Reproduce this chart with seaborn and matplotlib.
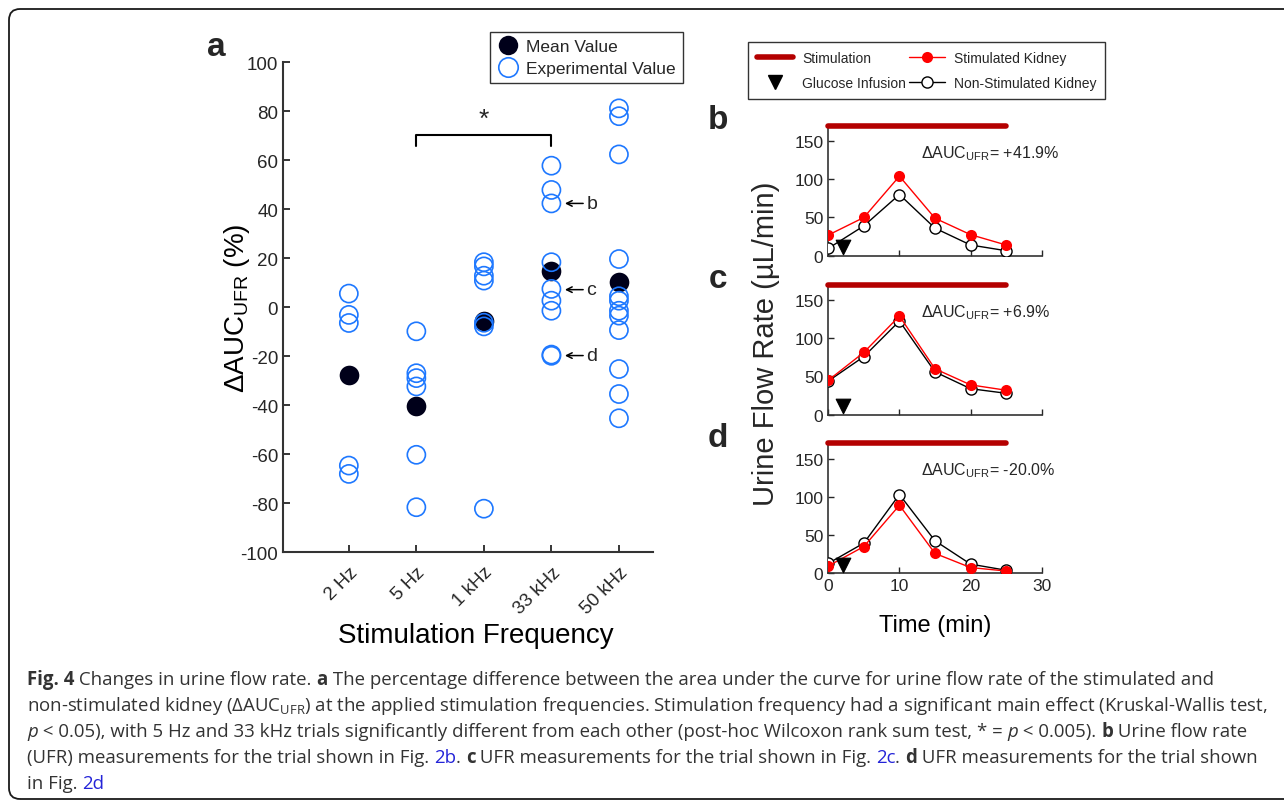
import numpy as np
import pandas as pd
import matplotlib
matplotlib.use("Agg")
import matplotlib.pyplot as plt
import seaborn as sns
from matplotlib.lines import Line2D
from matplotlib.patches import FancyBboxPatch
from matplotlib.transforms import IdentityTransform

# panel a data
freq_labels = ["2 Hz", "5 Hz", "1 kHz", "33 kHz", "50 kHz"]
exp_2hz = [5.6, -3.1, -6.4, -64.6, -68.0]
exp_5hz = [-9.8, -26.9, -28.9, -32.3, -60.2, -81.6]
exp_1khz = [18.4, 16.7, 12.9, 10.9, -6.3, -7.8, -82.2]
exp_33khz = [57.8, 47.9, 42.4, 18.4, 7.5, 2.7, -1.4, -19.3, -19.8]
exp_50khz = [81.2, 78.0, 62.4, 19.7, 4.5, 2.7, -1.4, -3.4, -9.3, -25.2, -35.4, -45.3]
mean_values = [-27.6, -40.3, -5.5, 15.0, 10.3]
trial_marks = {"b": 42.4, "c": 7.2, "d": -19.7}

# panels b-d data
time_min = [0, 5, 10, 15, 20, 25]
stim_b = [27, 50, 104, 49, 27.5, 14]
nonstim_b = [9.6, 39, 80, 36, 14, 6.5]
stim_c = [45, 81.5, 129, 60, 39, 32]
nonstim_c = [44, 76, 122.5, 56, 34, 28]
stim_d = [9.6, 35, 89, 26, 7.5, 3]
nonstim_d = [13, 39.5, 103, 42.5, 12, 4]
auc_text = ["+41.9%", "+6.9%", "-20.0%"]
stim_window = [0, 25]
stim_level = 170
glucose_time = [2]
glucose_level = [11]

sns.set_style("ticks")
plt.rcParams["font.family"] = ["Liberation Sans", "DejaVu Sans"]
plt.rcParams["mathtext.default"] = "regular"
plt.rcParams["axes.unicode_minus"] = False
plt.rcParams["xtick.direction"] = "in"
plt.rcParams["ytick.direction"] = "in"

W, H = 1284, 803
fig = plt.figure(figsize=(W / 100, H / 100), dpi=100)

def px(x0, y0, x1, y1):
    # pixel box (top-left origin) -> figure fraction rect
    return [x0 / W, 1 - y1 / H, (x1 - x0) / W, (y1 - y0) / H]

blue = "#1e78ff"
navy = "#00001a"
dark = "#262626"

# ---------- panel a ----------
ax = fig.add_axes(px(283, 63.3, 652.7, 553.3))
exp_df = pd.concat([
    pd.DataFrame({"freq": lab, "val": vals})
    for lab, vals in zip(freq_labels, [exp_2hz, exp_5hz, exp_1khz, exp_33khz, exp_50khz])
])
mean_df = pd.DataFrame({"freq": freq_labels, "val": mean_values})
sns.scatterplot(data=mean_df, x="freq", y="val", ax=ax, s=200, color=navy,
                edgecolor=navy, linewidth=0, legend=False, zorder=3)
sns.scatterplot(data=exp_df, x="freq", y="val", ax=ax, s=170, fc="none",
                edgecolor=blue, linewidth=1.2, legend=False, zorder=4)
ax.set_xlim(-0.975, 4.5)
ax.set_ylim(-100, 100)
ax.set_yticks(np.arange(-100, 101, 20))
ax.tick_params(labelsize=13.5, colors=dark, length=5, width=1.3)
ax.tick_params(axis="x", pad=8)
ax.set_xticks(range(len(freq_labels)))
ax.set_xticklabels(freq_labels, rotation=45, ha="right", rotation_mode="anchor")
for s in ["top", "right"]:
    ax.spines[s].set_visible(False)
for s in ["left", "bottom"]:
    ax.spines[s].set_linewidth(1.5)
    ax.spines[s].set_color("#333333")
ax.set_xlabel("Stimulation Frequency", fontsize=20, color="black", va="center")
ax.xaxis.set_label_coords(0.522, -0.169)
ax.set_ylabel("ΔAUC$_{UFR}$ (%)", fontsize=20, color="black", va="center")
ax.yaxis.set_label_coords(-0.124, 0.5)

# significance bracket 5 Hz vs 33 kHz
ax.plot([1, 1, 3, 3], [66, 70.5, 70.5, 66], color="black", lw=1.5)
ax.text(2, 72, "*", ha="center", va="bottom", fontsize=19)
for lab, yv in trial_marks.items():
    ax.annotate("", xy=(3.2, yv), xytext=(3.47, yv),
                arrowprops=dict(arrowstyle="->", color="black", lw=1.1,
                                shrinkA=0, shrinkB=0, mutation_scale=10))
    ax.text(3.52, yv, lab, ha="left", va="center", fontsize=14)

ax.legend(handles=[
    Line2D([], [], marker="o", ls="none", markersize=14, color=navy, markeredgewidth=0),
    Line2D([], [], marker="o", ls="none", markersize=14, markerfacecolor="none",
           markeredgecolor=blue, markeredgewidth=1.2)],
    labels=["Mean Value", "Experimental Value"], loc="upper left",
    bbox_to_anchor=(490 / W, 1 - 33 / H), bbox_transform=fig.transFigure,
    fontsize=12.5, frameon=True, fancybox=False, edgecolor="black",
    handletextpad=0.4, borderpad=0.4, labelspacing=0.4, handlelength=1.3,
    borderaxespad=0)

fig.text(207 / W, 1 - 48 / H, "a", fontsize=24, fontweight="bold", ha="left", va="center")

# ---------- panels b-d ----------
tops = [126.7, 285.7, 444.3]
stims = [stim_b, stim_c, stim_d]
nonstims = [nonstim_b, nonstim_c, nonstim_d]
for i, lab in enumerate(["b", "c", "d"]):
    top = tops[i]
    bx = fig.add_axes(px(828.3, top, 1041.7, top + 130))
    sns.lineplot(x=stim_window, y=[stim_level, stim_level], ax=bx, color="#b40000",
                 lw=4, clip_on=False, zorder=5)
    sns.lineplot(x=time_min, y=nonstims[i], ax=bx, color="black", lw=1,
                 marker="o", markersize=8, markerfacecolor="white",
                 markeredgecolor="black", markeredgewidth=1, zorder=3)
    sns.lineplot(x=time_min, y=stims[i], ax=bx, color="red", lw=1,
                 marker="o", markersize=8, markerfacecolor="red",
                 markeredgecolor="red", markeredgewidth=0, zorder=4)
    sns.scatterplot(x=glucose_time, y=glucose_level, ax=bx, marker="v", s=110,
                    color="black", edgecolor="black", legend=False, zorder=6)
    bx.set_xlim(0, 30)
    bx.set_ylim(0, 170)
    bx.set_yticks([0, 50, 100, 150])
    bx.set_xticks([0, 10, 20, 30])
    bx.tick_params(labelsize=12.5, colors=dark, length=4, width=1)
    if lab != "d":
        bx.set_xticklabels([])
    for s in ["top", "right"]:
        bx.spines[s].set_visible(False)
    for s in ["left", "bottom"]:
        bx.spines[s].set_color("#333333")
        bx.spines[s].set_linewidth(1.2)
    bx.text(13, 135, "ΔAUC$_{UFR}$= " + auc_text[i], fontsize=11.5, ha="left", va="center")
    fig.text(718 / W, 1 - (top - 6) / H, lab, fontsize=24, fontweight="bold",
             ha="center", va="center")
    if lab == "d":
        bx.set_xlabel("Time (min)", fontsize=17, color="black", va="center")
        bx.xaxis.set_label_coords(0.5, -0.40)

fig.text(766 / W, 1 - 344 / H, "Urine Flow Rate (µL/min)", fontsize=21,
         rotation=90, ha="center", va="center")

fig.legend(handles=[
    Line2D([], [], color="#b40000", lw=4),
    Line2D([], [], marker="v", ls="none", color="black", markersize=10),
    Line2D([], [], color="red", lw=1, marker="o", markersize=8, markeredgewidth=0),
    Line2D([], [], color="black", lw=1, marker="o", markersize=8,
           markerfacecolor="white", markeredgecolor="black")],
    labels=["Stimulation", "Glucose Infusion", "Stimulated Kidney", "Non-Stimulated Kidney"],
    ncol=2, loc="upper left", bbox_to_anchor=(748 / W, 1 - 43 / H),
    fontsize=10, frameon=True, fancybox=False, edgecolor="black",
    handlelength=2.6, columnspacing=0.2, handletextpad=0.65, borderpad=0.65,
    labelspacing=0.8, borderaxespad=0)

# ---------- caption ----------
renderer = fig.canvas.get_renderer()
cap_base = dict(fontsize=13.4, color="#333333", family=["Open Sans", "DejaVu Sans"])
link = "#2424d8"

def run_width(txt, kw):
    a = fig.text(0, 0, "x" + txt + "x", **{**cap_base, **kw})
    b = fig.text(0, 0, "xx", **{**cap_base, **kw})
    w = a.get_window_extent(renderer).width - b.get_window_extent(renderer).width
    a.remove()
    b.remove()
    return w

def draw_runs(x, y, runs):
    for txt, kw in runs:
        fig.text(x / W, 1 - y / H, txt, va="baseline", ha="left", **{**cap_base, **kw})
        x += run_width(txt, kw)

B = {"fontweight": "bold"}
I = {"style": "italic"}
L = {"color": link}
N = {}
caption = [
    [("Fig. 4", B), (" Changes in urine flow rate. ", N), ("a", B),
     (" The percentage difference between the area under the curve for urine flow rate of the stimulated and", N)],
    [("non-stimulated kidney (ΔAUC$_{UFR}$) at the applied stimulation frequencies. Stimulation frequency had a significant main effect (Kruskal-Wallis test,", N)],
    [("p", I), (" < 0.05), with 5 Hz and 33 kHz trials significantly different from each other (post-hoc Wilcoxon rank sum test, * = ", N),
     ("p", I), (" < 0.005). ", N), ("b", B), (" Urine flow rate", N)],
    [("(UFR) measurements for the trial shown in Fig. ", N), ("2b", L), (". ", N), ("c", B),
     (" UFR measurements for the trial shown in Fig. ", N), ("2c", L), (". ", N), ("d", B),
     (" UFR measurements for the trial shown", N)],
    [("in Fig. ", N), ("2d", L)],
]
for k, line in enumerate(caption):
    draw_runs(27, 685 + 26 * k, line)

# rounded frame around the whole figure
fig.patches.append(FancyBboxPatch((9, 3), 1320, 790, boxstyle="round,pad=0,rounding_size=11",
                                  transform=IdentityTransform(), fill=False,
                                  edgecolor="#1a1a1a", lw=1.3, figure=fig))

fig.savefig("out.png", dpi=100, facecolor="white")
